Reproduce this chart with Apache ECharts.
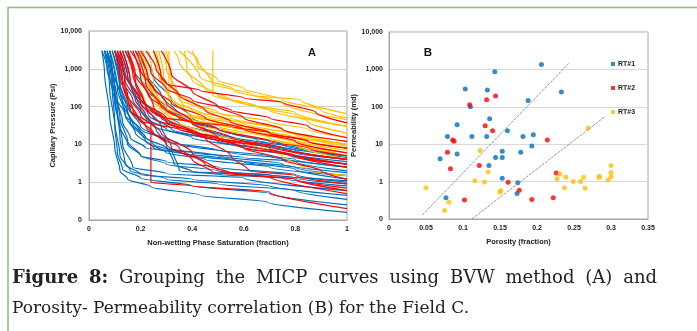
<!DOCTYPE html>
<html>
<head>
<meta charset="utf-8">
<script src="https://cdn.jsdelivr.net/npm/echarts@6/dist/echarts.min.js"></script>
<style>
html,body{margin:0;padding:0;background:#fff;}
#c{width:697px;height:331px;}
</style>
</head>
<body>
<div id="c"></div>
<script>
// ---------- Chart A: MICP curves [Snw, Pc(psi)] ----------
const blueCurves = [
  [[0.05,3000],[0.06,800],[0.08,60],[0.1,8],[0.12,2],[0.15,1.2],[0.24,0.76],[0.43,0.45],[0.69,0.3],[1,0.16]],
  [[0.06,3000],[0.08,300],[0.1,30],[0.11,6],[0.13,2.2],[0.2,1.3],[0.4,0.8],[0.7,0.5],[1,0.25]],
  [[0.07,3000],[0.09,300],[0.1,40],[0.12,5],[0.16,2],[0.3,1.2],[0.5,0.9],[0.8,0.6],[1,0.35]],
  [[0.08,3000],[0.1,200],[0.12,15],[0.14,3],[0.2,1.6],[0.4,1.2],[0.7,0.8],[1,0.45]],
  [[0.06,3000],[0.09,600],[0.11,80],[0.13,10],[0.17,2.5],[0.3,1.7],[0.6,1.3],[1,0.6]],
  [[0.07,3000],[0.1,300],[0.12,50],[0.15,12],[0.2,5],[0.3,3],[0.5,2],[0.8,1.3],[1,0.9]],
  [[0.08,3000],[0.11,300],[0.14,60],[0.18,20],[0.25,8],[0.4,5],[0.6,3.5],[0.8,2.2],[1,1.2]],
  [[0.09,3000],[0.12,400],[0.15,100],[0.2,30],[0.3,12],[0.5,7],[0.7,5],[1,2.5]],
  [[0.1,3000],[0.13,500],[0.17,150],[0.22,50],[0.3,25],[0.5,12],[0.7,7],[1,3.5]],
  [[0.05,3000],[0.07,1000],[0.1,200],[0.14,60],[0.2,25],[0.35,10],[0.55,6],[0.8,4],[1,2.5]],
  [[0.06,3000],[0.09,800],[0.12,250],[0.16,80],[0.25,30],[0.4,15],[0.6,8],[0.8,5],[1,3]],
  [[0.11,3000],[0.14,800],[0.18,200],[0.23,60],[0.32,25],[0.5,12],[0.75,6],[1,3]],
  [[0.12,3000],[0.15,600],[0.2,150],[0.28,50],[0.4,22],[0.6,12],[0.8,6],[1,4]],
  [[0.08,3000],[0.1,700],[0.13,120],[0.17,35],[0.22,15],[0.3,8],[0.5,5],[0.75,3],[1,1.8]],
  [[0.09,3000],[0.12,250],[0.16,40],[0.22,12],[0.3,6],[0.45,4],[0.7,2.5],[1,1.5]],
  [[0.15,3000],[0.18,500],[0.22,100],[0.28,30],[0.32,8],[0.35,2],[0.5,1.6],[0.75,1.3],[1,0.8]],
  [[0.13,3000],[0.16,400],[0.2,80],[0.26,25],[0.3,10],[0.33,3],[0.4,1.9],[0.7,1.6],[1,1.1]],
  [[0.07,3000],[0.09,900],[0.11,150],[0.13,40],[0.16,15],[0.22,8],[0.4,6],[0.6,4.5],[0.8,3.5],[1,2]],
  [[0.1,3000],[0.13,900],[0.17,250],[0.24,80],[0.35,35],[0.5,18],[0.7,10],[1,5]],
  [[0.18,3000],[0.22,800],[0.28,200],[0.35,60],[0.45,25],[0.6,12],[0.8,7],[1,4]],
  [[0.14,3000],[0.17,1000],[0.22,300],[0.3,90],[0.4,40],[0.55,20],[0.75,10],[1,5]],
  [[0.06,3000],[0.08,700],[0.1,120],[0.12,30],[0.15,10],[0.2,5],[0.3,3.5],[0.5,2.5],[0.8,1.6],[1,1]],
  [[0.1,3000],[0.12,400],[0.15,70],[0.2,20],[0.25,10],[0.35,6],[0.55,4],[0.8,2.5],[1,1.5]],
  [[0.2,3000],[0.25,600],[0.32,150],[0.4,50],[0.5,25],[0.65,13],[0.85,7],[1,4.5]]
];
const yellowCurves = [
  [[0.38,3000],[0.42,1800],[0.48,400],[0.64,200],[0.82,150],[1,65]],
  [[0.35,3000],[0.43,600],[0.56,280],[0.75,120],[1,45]],
  [[0.48,3000],[0.48,200],[0.6,120],[0.8,70],[1,30]],
  [[0.31,3000],[0.31,150],[0.4,80],[0.55,45],[0.75,25],[1,12]],
  [[0.26,3000],[0.28,500],[0.32,120],[0.42,60],[0.6,30],[0.8,15],[1,8]],
  [[0.2,3000],[0.22,800],[0.26,200],[0.32,80],[0.45,40],[0.65,20],[0.85,10],[1,5]],
  [[0.23,3000],[0.25,400],[0.28,100],[0.35,50],[0.5,30],[0.7,15],[1,6]],
  [[0.17,3000],[0.2,600],[0.24,150],[0.3,70],[0.4,45],[0.55,30],[0.75,15],[1,7]],
  [[0.29,3000],[0.3,1000],[0.34,250],[0.42,100],[0.55,50],[0.75,25],[1,10]],
  [[0.37,3000],[0.38,900],[0.45,300],[0.55,150],[0.7,80],[0.85,40],[1,20]],
  [[0.25,3000],[0.27,700],[0.31,200],[0.38,70],[0.5,35],[0.65,20],[0.8,12],[1,5]],
  [[0.21,3000],[0.23,500],[0.27,100],[0.33,40],[0.45,20],[0.6,12],[0.75,5],[0.85,2],[1,1.5]],
  [[0.3,3000],[0.32,400],[0.36,120],[0.45,60],[0.6,35],[0.8,18],[1,9]],
  [[0.15,3000],[0.18,500],[0.22,120],[0.28,60],[0.4,35],[0.6,18],[0.8,10],[1,4]],
  [[0.4,3000],[0.42,1200],[0.5,500],[0.6,300],[0.75,150],[0.9,80],[1,50]],
  [[0.27,3000],[0.29,600],[0.35,150],[0.5,70],[0.7,40],[0.85,25],[1,15]],
  [[0.19,3000],[0.21,700],[0.25,180],[0.3,90],[0.38,55],[0.5,40],[0.7,22],[1,10]],
  [[0.33,3000],[0.35,1500],[0.4,500],[0.5,200],[0.65,100],[0.8,60],[1,30]]
];
const redCurves = [
  [[0.11,3000],[0.14,500],[0.18,150],[0.22,60],[0.24,40],[0.24,1],[0.4,0.8],[0.7,0.55],[1,0.2]],
  [[0.1,3000],[0.12,800],[0.15,200],[0.2,60],[0.28,20],[0.4,6],[0.5,2],[0.6,1.6],[0.8,1.2],[1,0.7]],
  [[0.12,3000],[0.15,600],[0.2,150],[0.3,50],[0.45,15],[0.55,5],[0.62,2],[0.8,1.5],[1,0.9]],
  [[0.15,3000],[0.18,700],[0.23,200],[0.3,80],[0.4,35],[0.55,15],[0.75,8],[1,4]],
  [[0.16,3000],[0.2,900],[0.25,300],[0.32,120],[0.45,50],[0.6,25],[0.8,12],[1,6]],
  [[0.13,3000],[0.16,500],[0.2,120],[0.25,50],[0.35,25],[0.5,14],[0.7,8],[1,3]],
  [[0.17,3000],[0.2,600],[0.25,100],[0.3,40],[0.4,20],[0.6,10],[0.8,5],[1,2.5]],
  [[0.2,3000],[0.24,800],[0.3,300],[0.4,150],[0.55,80],[0.7,50],[0.85,30],[1,15]],
  [[0.22,3000],[0.26,1000],[0.3,400],[0.43,270],[0.6,170],[0.75,130],[0.88,70],[1,37]],
  [[0.14,3000],[0.17,700],[0.21,150],[0.26,60],[0.3,50],[0.4,40],[0.55,30],[0.7,20],[0.85,12],[1,8]],
  [[0.11,3000],[0.13,400],[0.16,80],[0.2,40],[0.25,35],[0.35,25],[0.5,15],[0.7,9],[1,4]],
  [[0.18,3000],[0.22,400],[0.28,100],[0.35,50],[0.5,25],[0.7,12],[0.85,8],[1,5]],
  [[0.25,3000],[0.28,600],[0.35,200],[0.45,80],[0.55,40],[0.7,20],[0.85,12],[1,8]],
  [[0.12,3000],[0.14,300],[0.17,80],[0.22,30],[0.3,10],[0.4,4],[0.48,1.8],[0.7,1.4],[1,0.5]],
  [[0.19,3000],[0.23,500],[0.3,120],[0.4,40],[0.5,15],[0.6,8],[0.75,4],[0.9,2],[1,1.2]],
  [[0.15,3000],[0.18,400],[0.22,100],[0.3,40],[0.42,18],[0.58,9],[0.78,5],[1,3]],
  [[0.1,3000],[0.12,600],[0.15,150],[0.19,50],[0.25,20],[0.35,8],[0.45,3],[0.55,1.7],[0.8,1.2],[1,0.6]],
  [[0.28,3000],[0.32,700],[0.4,250],[0.5,100],[0.6,50],[0.75,25],[1,12]]
];

// ---------- Chart B: porosity (fraction) vs permeability (md) ----------
const rt1Points = [
  [0.206,1350],[0.143,870],[0.103,300],[0.133,280],[0.233,250],[0.188,148],[0.110,100],
  [0.136,48],[0.092,33],[0.160,23],[0.195,18],[0.181,16],[0.079,16],[0.112,16],[0.132,16],
  [0.193,9],[0.092,5.5],[0.153,6.5],[0.178,6.1],[0.069,4.1],[0.144,4.4],[0.153,4.4],
  [0.135,2.7],[0.153,1.23],[0.174,0.93],[0.173,0.48],[0.077,0.37]
];
const rt2Points = [
  [0.144,195],[0.132,155],[0.109,113],[0.130,31],[0.140,23],[0.086,13],[0.088,12],[0.214,13],
  [0.079,6.1],[0.122,2.7],[0.083,2.2],[0.226,1.7],[0.161,0.96],[0.176,0.59],[0.102,0.32],
  [0.193,0.33],[0.222,0.37]
];
const rt3Points = [
  [0.123,6.8],[0.134,1.8],[0.116,1.05],[0.129,0.98],[0.050,0.69],[0.151,0.58],[0.150,0.53],
  [0.081,0.28],[0.075,0.17],[0.269,27],[0.300,2.7],[0.300,1.75],[0.300,1.35],[0.296,1.1],
  [0.284,1.36],[0.284,1.3],[0.231,1.6],[0.227,1.2],[0.239,1.3],[0.263,1.3],[0.249,1.0],
  [0.259,1.0],[0.237,0.69],[0.265,0.66]
];
const trendLine1 = [[0.045,0.128],[0.243,1450]];
const trendLine2 = [[0.112,0.1],[0.292,55]];

const seriesNames = ['RT#1','RT#2','RT#3'];
const logTickLabels = ['0','1','10','100','1,000','10,000'];
const panelLabels = ['A','B'];
const captionLine1Bold = ['Figure', '8:'];
const captionLine1Words = ['Grouping','the','MICP','curves','using','BVW','method','(A)','and'];
const captionLine2 = 'Porosity- Permeability correlation (B) for the Field C.';

const BLUE = '#0070C0', RED = '#FF0000', YELLOW = '#FFC000';
const axisFont = {fontFamily: 'Liberation Sans, Arial', fontWeight: 'bold', fontSize: 7, color: '#222'};
const logFmt = v => { const i = Math.round(Math.log10(v)) + 1; return logTickLabels[i] !== undefined ? logTickLabels[i] : ''; };

const series = [];
function addCurves(arr, color) {
  arr.forEach(c => series.push({
    type: 'line', xAxisIndex: 0, yAxisIndex: 0, data: c, showSymbol: false, symbol: 'none',
    smooth: 0.3, smoothMonotone: 'y', silent: true,
    lineStyle: {color: color, width: 1.2}, itemStyle: {color: color}
  }));
}
addCurves(blueCurves, BLUE);
addCurves(yellowCurves, YELLOW);
addCurves(redCurves, RED);

[trendLine1, trendLine2].forEach(t => series.push({
  type: 'line', xAxisIndex: 1, yAxisIndex: 1, data: t, showSymbol: false, symbol: 'none', silent: true,
  lineStyle: {color: '#8c8c8c', width: 0.9, type: [3, 1]}
}));
[[rt1Points, BLUE], [rt2Points, RED], [rt3Points, YELLOW]].forEach((p, i) => series.push({
  name: seriesNames[i], type: 'scatter', xAxisIndex: 1, yAxisIndex: 1, data: p[0],
  symbol: 'circle', symbolSize: 5, itemStyle: {color: p[1]}
}));

// ---------- justified caption line 1 ----------
const capFamily = 'DejaVu Serif';
const capSize1 = 18, capSize2 = 17;
const capLeft = 12, capRight = 657;
const mctx = document.createElement('canvas').getContext('2d');
const capWords = captionLine1Bold.map(w => ({w: w, bold: true})).concat(captionLine1Words.map(w => ({w: w, bold: false})));
let totalW = 0;
capWords.forEach(o => {
  mctx.font = (o.bold ? 'bold ' : '') + capSize1 + 'px ' + capFamily;
  o.width = mctx.measureText(o.w).width;
  totalW += o.width;
});
const gap = (capRight - capLeft - totalW) / (capWords.length - 1);
const captionGraphics = [];
let cx = capLeft;
capWords.forEach(o => {
  captionGraphics.push({type: 'text', x: cx, y: 278, silent: true,
    style: {text: o.w, font: (o.bold ? 'bold ' : '') + capSize1 + 'px ' + capFamily, fill: '#222', verticalAlign: 'middle'}});
  cx += o.width + gap;
});
captionGraphics.push({type: 'text', x: capLeft, y: 309, silent: true,
  style: {text: captionLine2, font: capSize2 + 'px ' + capFamily, fill: '#222', verticalAlign: 'middle'}});

const chart = echarts.init(document.getElementById('c'), null, {renderer: 'canvas', width: 697, height: 331});
const axisNameStyle = {fontFamily: 'Liberation Sans, Arial', fontWeight: 'bold', fontSize: 7.5, color: '#222'};
chart.setOption({
  animation: false,
  backgroundColor: '#fff',
  grid: [
    {left: 89, top: 31, width: 258, height: 189, show: true, borderColor: '#a6a6a6', borderWidth: 1},
    {left: 389, top: 32, width: 259, height: 187, show: true, borderColor: '#a6a6a6', borderWidth: 1}
  ],
  xAxis: [
    {gridIndex: 0, type: 'value', min: 0, max: 1, interval: 0.2,
     name: 'Non-wetting Phase Saturation (fraction)', nameLocation: 'middle', nameGap: 19, nameTextStyle: axisNameStyle,
     axisLine: {show: true, lineStyle: {color: '#a6a6a6'}}, axisTick: {show: false}, splitLine: {show: false},
     axisLabel: Object.assign({margin: 6}, axisFont)},
    {gridIndex: 1, type: 'value', min: 0, max: 0.35, interval: 0.05,
     name: 'Porosity (fraction)', nameLocation: 'middle', nameGap: 19, nameTextStyle: axisNameStyle,
     axisLine: {show: true, lineStyle: {color: '#a6a6a6'}}, axisTick: {show: false}, splitLine: {show: false},
     axisLabel: Object.assign({margin: 6}, axisFont)}
  ],
  yAxis: [
    {gridIndex: 0, type: 'log', logBase: 10, min: 0.1, max: 10000,
     name: 'Capillary Pressure (Psi)', nameLocation: 'middle', nameGap: 27, nameTextStyle: axisNameStyle,
     axisLine: {show: true, lineStyle: {color: '#a6a6a6'}}, axisTick: {show: false},
     splitLine: {show: true, lineStyle: {color: '#d0d0d0', width: 1}},
     axisLabel: Object.assign({margin: 7, formatter: logFmt}, axisFont)},
    {gridIndex: 1, type: 'log', logBase: 10, min: 0.1, max: 10000,
     name: 'Permeability (md)', nameLocation: 'middle', nameGap: 28, nameTextStyle: axisNameStyle,
     axisLine: {show: true, lineStyle: {color: '#a6a6a6'}}, axisTick: {show: false},
     splitLine: {show: true, lineStyle: {color: '#d9d9d9', width: 1}},
     axisLabel: Object.assign({margin: 6, formatter: logFmt}, axisFont)}
  ],
  legend: {
    data: seriesNames, orient: 'vertical', left: 606, top: 54, itemGap: 14,
    itemWidth: 4, itemHeight: 4, icon: 'rect', selectedMode: false,
    textStyle: {fontFamily: 'Liberation Sans, Arial', fontWeight: 'bold', fontSize: 7, color: '#222', lineHeight: 10, padding: [0,0,0,-2]}
  },
  graphic: [
    {type: 'polyline', silent: true, shape: {points: [[8, 331], [8, 7.5], [697, 7.5]]},
     style: {stroke: '#86c06a', lineWidth: 1.5, fill: null}},
    {type: 'text', x: 312, y: 53, silent: true,
     style: {text: panelLabels[0], font: 'bold 11px Liberation Sans, Arial', fill: '#111', align: 'center', verticalAlign: 'middle'}},
    {type: 'text', x: 428, y: 53, silent: true,
     style: {text: panelLabels[1], font: 'bold 11.5px Liberation Sans, Arial', fill: '#111', align: 'center', verticalAlign: 'middle'}}
  ].concat(captionGraphics),
  series: series
});
</script>
</body>
</html>
